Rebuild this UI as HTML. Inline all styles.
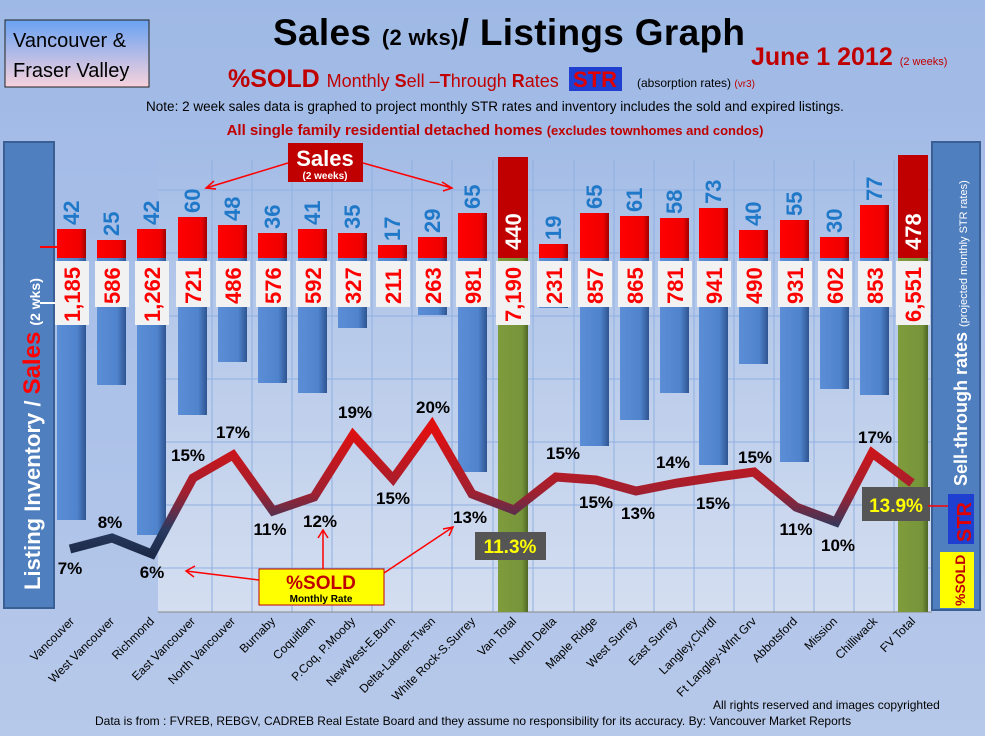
<!DOCTYPE html>
<html><head><meta charset="utf-8"><style>
html,body{margin:0;padding:0;width:985px;height:736px;overflow:hidden;background:#a6bde6}
svg{display:block;font-family:"Liberation Sans",sans-serif}
</style></head><body>
<svg width="985" height="736" viewBox="0 0 985 736" xmlns="http://www.w3.org/2000/svg">
<defs>
<linearGradient id="bg" x1="0" y1="0" x2="0" y2="1"><stop offset="0" stop-color="#9fb9e6"/><stop offset="1" stop-color="#b7c9ea"/></linearGradient>
<linearGradient id="plot" x1="0" y1="0" x2="0" y2="1"><stop offset="0" stop-color="#a3bce6"/><stop offset="1" stop-color="#d4def0"/></linearGradient>
<linearGradient id="blue" x1="0" y1="0" x2="1" y2="0"><stop offset="0" stop-color="#5b8ed6"/><stop offset="0.7" stop-color="#4f83cc"/><stop offset="1" stop-color="#2f5490"/></linearGradient>
<linearGradient id="red" x1="0" y1="0" x2="1" y2="0"><stop offset="0" stop-color="#ff0000"/><stop offset="0.8" stop-color="#f00000"/><stop offset="1" stop-color="#a00000"/></linearGradient>
<linearGradient id="green" x1="0" y1="0" x2="1" y2="0"><stop offset="0" stop-color="#7f9c3c"/><stop offset="0.8" stop-color="#76943a"/><stop offset="1" stop-color="#4e6626"/></linearGradient>
<linearGradient id="vf" x1="0" y1="0" x2="0" y2="1"><stop offset="0" stop-color="#6aa2f2"/><stop offset="1" stop-color="#f7d2dc"/></linearGradient>
<linearGradient id="ln" gradientUnits="userSpaceOnUse" x1="0" y1="430" x2="0" y2="555"><stop offset="0" stop-color="#e01010"/><stop offset="0.5" stop-color="#a02030"/><stop offset="0.8" stop-color="#283a60"/><stop offset="1" stop-color="#1c2a48"/></linearGradient>
</defs>
<rect width="985" height="736" fill="url(#bg)"/>
<rect x="158" y="140" width="774" height="472" fill="url(#plot)"/>
<g stroke="#8fb0e0" stroke-width="1">
<line x1="158" y1="190" x2="932" y2="190"/><line x1="158" y1="253" x2="932" y2="253"/><line x1="158" y1="316" x2="932" y2="316"/><line x1="158" y1="379" x2="932" y2="379"/><line x1="158" y1="442" x2="932" y2="442"/><line x1="158" y1="505" x2="932" y2="505"/><line x1="158" y1="568" x2="932" y2="568"/>
<line x1="212" y1="160" x2="212" y2="612"/><line x1="252" y1="160" x2="252" y2="612"/><line x1="292" y1="160" x2="292" y2="612"/><line x1="332" y1="160" x2="332" y2="612"/><line x1="372" y1="160" x2="372" y2="612"/><line x1="412" y1="160" x2="412" y2="612"/><line x1="452" y1="160" x2="452" y2="612"/><line x1="493" y1="160" x2="493" y2="612"/><line x1="533" y1="160" x2="533" y2="612"/><line x1="574" y1="160" x2="574" y2="612"/><line x1="614" y1="160" x2="614" y2="612"/><line x1="654" y1="160" x2="654" y2="612"/><line x1="694" y1="160" x2="694" y2="612"/><line x1="734" y1="160" x2="734" y2="612"/><line x1="774" y1="160" x2="774" y2="612"/><line x1="814" y1="160" x2="814" y2="612"/><line x1="854" y1="160" x2="854" y2="612"/><line x1="894" y1="160" x2="894" y2="612"/>
</g>
<line x1="158" y1="612" x2="932" y2="612" stroke="#888" stroke-width="1"/>

<!-- header -->
<rect x="5" y="20" width="144" height="67" fill="url(#vf)" stroke="#222" stroke-width="1"/>
<text x="13" y="47" font-size="20" fill="#000">Vancouver &amp;</text>
<text x="13" y="77" font-size="20" fill="#000">Fraser Valley</text>
<text x="273" y="45" font-size="37" font-weight="bold" fill="#000" textLength="472">Sales <tspan font-size="22">(2 wks)</tspan>/ Listings Graph</text>
<text x="751" y="65" font-size="25" font-weight="bold" fill="#c00000">June 1 2012 <tspan font-size="11" font-weight="normal">(2 weeks)</tspan></text>
<text x="228" y="87" font-size="25" font-weight="bold" fill="#c00000">%SOLD <tspan font-size="18" font-weight="normal">Monthly <tspan font-weight="bold">S</tspan>ell –<tspan font-weight="bold">T</tspan>hrough <tspan font-weight="bold">R</tspan>ates</tspan></text>
<rect x="569" y="67" width="53" height="24" fill="#1f3fd0"/>
<text x="573" y="87" font-size="22" font-weight="bold" fill="#e00000">STR</text>
<text x="637" y="87" font-size="12" fill="#000">(absorption rates) <tspan fill="#c00000" font-size="10">(vr3)</tspan></text>
<text x="495" y="111" font-size="13.5" fill="#000" text-anchor="middle">Note: 2 week sales data is graphed to project monthly STR rates and inventory includes the sold and expired listings.</text>
<text x="495" y="135" font-size="15" font-weight="bold" fill="#c00000" text-anchor="middle">All single family residential detached homes <tspan font-size="13">(excludes townhomes and condos)</tspan></text>

<!-- left panel -->
<rect x="4" y="142" width="50" height="466" fill="#4f7fbe" stroke="#3a5f95" stroke-width="2"/>
<text transform="translate(40,590) rotate(-90)" font-size="22" font-weight="bold" fill="#fff">Listing Inventory / <tspan fill="#ff0000" font-size="24">Sales</tspan> <tspan font-size="14">(2  wks)</tspan></text>
<line x1="40" y1="247" x2="66" y2="247" stroke="#ff0000" stroke-width="2"/>
<line x1="40" y1="303" x2="60" y2="303" stroke="#fff" stroke-width="2"/>

<!-- blue inventory bars -->
<g fill="url(#blue)">
<rect x="57" y="258" width="29" height="262"/>
<rect x="97" y="258" width="29" height="127"/>
<rect x="137" y="258" width="29" height="277"/>
<rect x="178" y="258" width="29" height="157"/>
<rect x="218" y="258" width="29" height="104"/>
<rect x="258" y="258" width="29" height="125"/>
<rect x="298" y="258" width="29" height="135"/>
<rect x="338" y="258" width="29" height="70"/>
<rect x="378" y="258" width="29" height="5"/>
<rect x="418" y="258" width="29" height="57"/>
<rect x="458" y="258" width="29" height="214"/>
<rect x="539" y="258" width="29" height="50"/>
<rect x="580" y="258" width="29" height="188"/>
<rect x="620" y="258" width="29" height="162"/>
<rect x="660" y="258" width="29" height="135"/>
<rect x="699" y="258" width="29" height="207"/>
<rect x="739" y="258" width="29" height="106"/>
<rect x="780" y="258" width="29" height="204"/>
<rect x="820" y="258" width="29" height="131"/>
<rect x="860" y="258" width="29" height="137"/>
</g>
<rect x="498" y="258" width="30" height="354" fill="url(#green)"/>
<rect x="898" y="258" width="30" height="354" fill="url(#green)"/>
<!-- red sales bars -->
<g fill="url(#red)">
<rect x="57" y="229" width="29" height="29"/>
<rect x="97" y="240" width="29" height="18"/>
<rect x="137" y="229" width="29" height="29"/>
<rect x="178" y="217" width="29" height="41"/>
<rect x="218" y="225" width="29" height="33"/>
<rect x="258" y="233" width="29" height="25"/>
<rect x="298" y="229" width="29" height="29"/>
<rect x="338" y="233" width="29" height="25"/>
<rect x="378" y="245" width="29" height="13"/>
<rect x="418" y="237" width="29" height="21"/>
<rect x="458" y="213" width="29" height="45"/>
<rect x="539" y="244" width="29" height="14"/>
<rect x="580" y="213" width="29" height="45"/>
<rect x="620" y="216" width="29" height="42"/>
<rect x="660" y="218" width="29" height="40"/>
<rect x="699" y="208" width="29" height="50"/>
<rect x="739" y="230" width="29" height="28"/>
<rect x="780" y="220" width="29" height="38"/>
<rect x="820" y="237" width="29" height="21"/>
<rect x="860" y="205" width="29" height="53"/>
</g>
<rect x="498" y="157" width="30" height="101" fill="#c00000"/>
<rect x="898" y="155" width="30" height="103" fill="#c00000"/>

<!-- sales numbers (blue) -->
<g font-size="22" fill="#1f78c8" font-weight="bold">
<text transform="translate(79,225) rotate(-90)">42</text>
<text transform="translate(119,236) rotate(-90)">25</text>
<text transform="translate(159,225) rotate(-90)">42</text>
<text transform="translate(200,213) rotate(-90)">60</text>
<text transform="translate(240,221) rotate(-90)">48</text>
<text transform="translate(280,229) rotate(-90)">36</text>
<text transform="translate(320,225) rotate(-90)">41</text>
<text transform="translate(360,229) rotate(-90)">35</text>
<text transform="translate(400,241) rotate(-90)">17</text>
<text transform="translate(440,233) rotate(-90)">29</text>
<text transform="translate(480,209) rotate(-90)">65</text>
<text transform="translate(561,240) rotate(-90)">19</text>
<text transform="translate(602,209) rotate(-90)">65</text>
<text transform="translate(642,212) rotate(-90)">61</text>
<text transform="translate(682,214) rotate(-90)">58</text>
<text transform="translate(721,204) rotate(-90)">73</text>
<text transform="translate(761,226) rotate(-90)">40</text>
<text transform="translate(802,216) rotate(-90)">55</text>
<text transform="translate(842,233) rotate(-90)">30</text>
<text transform="translate(882,201) rotate(-90)">77</text>
</g>
<g font-size="22" fill="#fff" font-weight="bold">
<text transform="translate(521,250) rotate(-90)">440</text>
<text transform="translate(921,250) rotate(-90)">478</text>
</g>

<!-- inventory label boxes -->
<g fill="#f2f2f2">
<rect x="55" y="261" width="34" height="64"/>
<rect x="95" y="261" width="34" height="46"/>
<rect x="135" y="261" width="34" height="64"/>
<rect x="176" y="261" width="34" height="46"/>
<rect x="216" y="261" width="34" height="46"/>
<rect x="256" y="261" width="34" height="46"/>
<rect x="296" y="261" width="34" height="46"/>
<rect x="336" y="261" width="34" height="46"/>
<rect x="376" y="261" width="34" height="46"/>
<rect x="416" y="261" width="34" height="46"/>
<rect x="456" y="261" width="34" height="46"/>
<rect x="496" y="261" width="34" height="64"/>
<rect x="537" y="261" width="34" height="46"/>
<rect x="578" y="261" width="34" height="46"/>
<rect x="618" y="261" width="34" height="46"/>
<rect x="658" y="261" width="34" height="46"/>
<rect x="697" y="261" width="34" height="46"/>
<rect x="737" y="261" width="34" height="46"/>
<rect x="778" y="261" width="34" height="46"/>
<rect x="818" y="261" width="34" height="46"/>
<rect x="858" y="261" width="34" height="46"/>
<rect x="896" y="261" width="34" height="64"/>
</g>
<g font-size="22" fill="#ff0000" font-weight="bold">
<text transform="translate(80,322) rotate(-90)">1,185</text>
<text transform="translate(120,304) rotate(-90)">586</text>
<text transform="translate(160,322) rotate(-90)">1,262</text>
<text transform="translate(201,304) rotate(-90)">721</text>
<text transform="translate(241,304) rotate(-90)">486</text>
<text transform="translate(281,304) rotate(-90)">576</text>
<text transform="translate(321,304) rotate(-90)">592</text>
<text transform="translate(361,304) rotate(-90)">327</text>
<text transform="translate(401,304) rotate(-90)">211</text>
<text transform="translate(441,304) rotate(-90)">263</text>
<text transform="translate(481,304) rotate(-90)">981</text>
<text transform="translate(521,322) rotate(-90)">7,190</text>
<text transform="translate(562,304) rotate(-90)">231</text>
<text transform="translate(603,304) rotate(-90)">857</text>
<text transform="translate(643,304) rotate(-90)">865</text>
<text transform="translate(683,304) rotate(-90)">781</text>
<text transform="translate(722,304) rotate(-90)">941</text>
<text transform="translate(762,304) rotate(-90)">490</text>
<text transform="translate(803,304) rotate(-90)">931</text>
<text transform="translate(843,304) rotate(-90)">602</text>
<text transform="translate(883,304) rotate(-90)">853</text>
<text transform="translate(921,322) rotate(-90)">6,551</text>
</g>

<!-- STR line -->
<polyline points="70,549 112,538 152,554 193,478 233,455 273,511 314,497 353,435 393,479 432,425 472,494 514,510 556,477 596,480 636,491 677,483 717,477 754,472 796,507 836,522 872,453 912,483" fill="none" stroke="url(#ln)" stroke-width="9" stroke-linejoin="miter"/>

<g font-size="17" font-weight="bold" fill="#000" text-anchor="middle">
<text x="70" y="574">7%</text>
<text x="110" y="528">8%</text>
<text x="152" y="578">6%</text>
<text x="188" y="461">15%</text>
<text x="233" y="438">17%</text>
<text x="270" y="535">11%</text>
<text x="320" y="527">12%</text>
<text x="355" y="418">19%</text>
<text x="393" y="504">15%</text>
<text x="433" y="413">20%</text>
<text x="470" y="523">13%</text>
<text x="563" y="459">15%</text>
<text x="596" y="508">15%</text>
<text x="638" y="519">13%</text>
<text x="673" y="468">14%</text>
<text x="713" y="509">15%</text>
<text x="755" y="463">15%</text>
<text x="796" y="535">11%</text>
<text x="838" y="551">10%</text>
<text x="875" y="443">17%</text>
</g>
<rect x="475" y="532" width="71" height="28" fill="#555"/>
<text x="510" y="553" font-size="19" font-weight="bold" fill="#ffff00" text-anchor="middle">11.3%</text>
<rect x="862" y="487" width="68" height="34" fill="#555"/>
<text x="896" y="512" font-size="19" font-weight="bold" fill="#ffff00" text-anchor="middle">13.9%</text>

<!-- Sales callout -->
<rect x="288" y="143" width="75" height="39" fill="#c00000"/>
<text x="325" y="166" font-size="22" font-weight="bold" fill="#fff" text-anchor="middle">Sales</text>
<text x="325" y="179" font-size="10" font-weight="bold" fill="#fff" text-anchor="middle">(2 weeks)</text>
<g stroke="#ff0000" stroke-width="1.5" fill="none">
<line x1="288" y1="163" x2="206" y2="188"/><polyline points="214,181 206,188 216,189"/>
<line x1="363" y1="163" x2="452" y2="188"/><polyline points="442,182 452,188 443,191"/>
</g>
<!-- %SOLD callout -->
<rect x="259" y="569" width="125" height="36" fill="#ffff00" stroke="#c00000" stroke-width="1"/>
<text x="321" y="589" font-size="19" font-weight="bold" fill="#c00000" text-anchor="middle">%SOLD</text>
<text x="321" y="602" font-size="10" font-weight="bold" fill="#000" text-anchor="middle">Monthly Rate</text>
<g stroke="#ff0000" stroke-width="1.5" fill="none">
<line x1="259" y1="580" x2="186" y2="571"/><polyline points="195,566 186,571 194,577"/>
<line x1="323" y1="569" x2="323" y2="530"/><polyline points="318,538 323,530 328,538"/>
<line x1="384" y1="573" x2="453" y2="527"/><polyline points="443,529 453,527 449,536"/>
</g>

<!-- right panel -->
<rect x="932" y="142" width="48" height="468" fill="#4f7fbe" stroke="#3a5f95" stroke-width="2"/>
<text transform="translate(967,486) rotate(-90)" font-size="18" font-weight="bold" fill="#fff">Sell-through rates <tspan font-size="11" font-weight="normal">(projected monthly STR rates)</tspan></text>
<rect x="948" y="494" width="26" height="50" fill="#1f3fd0"/>
<text transform="translate(971,542) rotate(-90)" font-size="20" font-weight="bold" fill="#e00000">STR</text>
<rect x="940" y="552" width="34" height="56" fill="#ffff00"/>
<text transform="translate(965,606) rotate(-90)" font-size="14" font-weight="bold" fill="#c00000">%SOLD</text>
<line x1="928" y1="506" x2="948" y2="506" stroke="#ff0000" stroke-width="1.5"/>

<!-- category labels -->
<g font-size="12" fill="#000" text-anchor="end">
<text transform="translate(75,622) rotate(-45)">Vancouver</text>
<text transform="translate(115,622) rotate(-45)">West Vancouver</text>
<text transform="translate(155,622) rotate(-45)">Richmond</text>
<text transform="translate(196,622) rotate(-45)">East Vancouver</text>
<text transform="translate(236,622) rotate(-45)">North Vancouver</text>
<text transform="translate(276,622) rotate(-45)">Burnaby</text>
<text transform="translate(316,622) rotate(-45)">Coquitlam</text>
<text transform="translate(356,622) rotate(-45)">P.Coq, P.Moody</text>
<text transform="translate(396,622) rotate(-45)">NewWest-E.Burn</text>
<text transform="translate(436,622) rotate(-45)">Delta-Ladner-Twsn</text>
<text transform="translate(476,622) rotate(-45)">White Rock-S.Surrey</text>
<text transform="translate(517,622) rotate(-45)">Van Total</text>
<text transform="translate(557,622) rotate(-45)">North Delta</text>
<text transform="translate(598,622) rotate(-45)">Maple Ridge</text>
<text transform="translate(638,622) rotate(-45)">West Surrey</text>
<text transform="translate(678,622) rotate(-45)">East Surrey</text>
<text transform="translate(717,622) rotate(-45)">Langley,Clvrdl</text>
<text transform="translate(757,622) rotate(-45)">Ft Langley-Wlnt Grv</text>
<text transform="translate(798,622) rotate(-45)">Abbotsford</text>
<text transform="translate(838,622) rotate(-45)">Mission</text>
<text transform="translate(878,622) rotate(-45)">Chilliwack</text>
<text transform="translate(916,622) rotate(-45)">FV Total</text>
</g>
<text x="713" y="709" font-size="12" fill="#000">All rights reserved and  images copyrighted</text>
<text x="95" y="725" font-size="12" fill="#000">Data is from : FVREB, REBGV, CADREB Real Estate Board and they assume no responsibility for its accuracy. By: Vancouver Market Reports</text>
</svg>
</body></html>
